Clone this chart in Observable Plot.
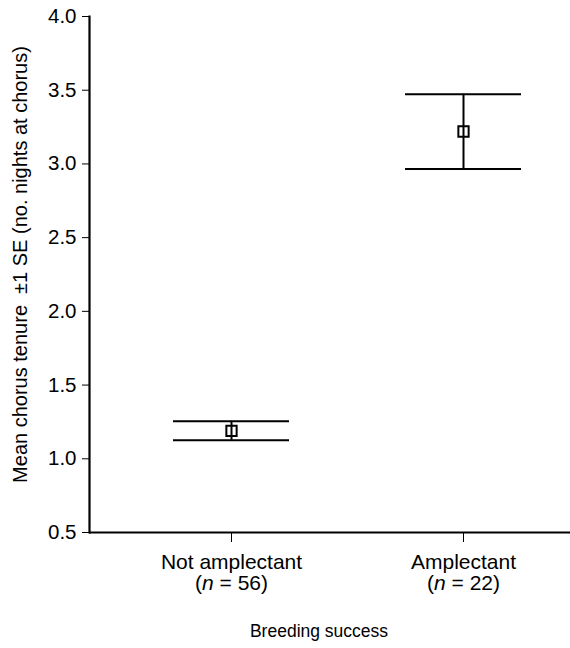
<!DOCTYPE html>
<html>
<head>
<meta charset="utf-8">
<script src="https://cdn.jsdelivr.net/npm/d3@7"></script>
<script src="https://cdn.jsdelivr.net/npm/@observablehq/plot@0.6"></script>
<style>
  html, body { margin: 0; padding: 0; background: #fff; }
  #chart svg { display: block; }
</style>
</head>
<body>
<div id="chart"></div>
<script>
// ---- data ----
const categories = ["Not amplectant", "Amplectant"];
const sampleSizes = [56, 22];
const means = [1.19, 3.22];
const lowerSE = [1.125, 2.965];
const upperSE = [1.255, 3.473];
const yTicks = [0.5, 1.0, 1.5, 2.0, 2.5, 3.0, 3.5, 4.0];
const xTitle = "Breeding success";
const yTitle = "Mean chorus tenure  \u00B11 SE (no. nights at chorus)";

const data = categories.map((c, i) => ({
  cat: c, n: sampleSizes[i], mean: means[i], lo: lowerSE[i], hi: upperSE[i]
}));

const font = "'Liberation Sans', Arial, Helvetica, sans-serif";

const chart = Plot.plot({
  width: 570,
  height: 648,
  marginLeft: 89,
  marginRight: 0,
  marginTop: 16,
  marginBottom: 116,
  style: { fontFamily: font, fontSize: "18px", color: "black", background: "white" },
  x: {
    type: "band",
    domain: categories,
    range: [173, 521],
    paddingInner: 0.5,
    paddingOuter: 0,
    round: false
  },
  y: { domain: [0.5, 4.0] },
  marks: [
    Plot.axisY({
      ticks: yTicks,
      tickFormat: d3.format(".1f"),
      tickSize: 7,
      tickPadding: 6,
      fontSize: 20.5,
      label: null
    }),
    Plot.axisX({
      tickSize: 10,
      tickPadding: 12,
      fontSize: 21,
      label: null,
      tickFormat: (d) => `${d}\n(n = ${sampleSizes[categories.indexOf(d)]})`
    }),
    Plot.frame({ anchor: "left", strokeWidth: 2.2 }),
    Plot.ruleY([0.5], { strokeWidth: 2.2 }),
    Plot.tickY(data, { x: "cat", y: "hi", strokeWidth: 2 }),
    Plot.tickY(data, { x: "cat", y: "lo", strokeWidth: 2 }),
    Plot.ruleX(data, { x: "cat", y1: "lo", y2: "hi", strokeWidth: 2 }),
    Plot.dot(data, { x: "cat", y: "mean", symbol: "square", r: 5.8, fill: "none", stroke: "black", strokeWidth: 2 }),
    Plot.text([yTitle], { frameAnchor: "left", rotate: -90, dx: -69, dy: -10, fontSize: 20, textAnchor: "middle" }),
    Plot.text([xTitle], { frameAnchor: "bottom", dy: 104, dx: -11, fontSize: 17.5 })
  ]
});

// italicise the "n" in the sample-size lines of the tick labels
chart.querySelectorAll("tspan, text").forEach((el) => {
  if (el.children.length === 0) {
    const m = /^\(n = (\d+)\)$/.exec(el.textContent);
    if (m) el.innerHTML = `(<tspan font-style="italic">n</tspan> = ${m[1]})`;
  }
});

document.getElementById("chart").appendChild(chart);
</script>
</body>
</html>
